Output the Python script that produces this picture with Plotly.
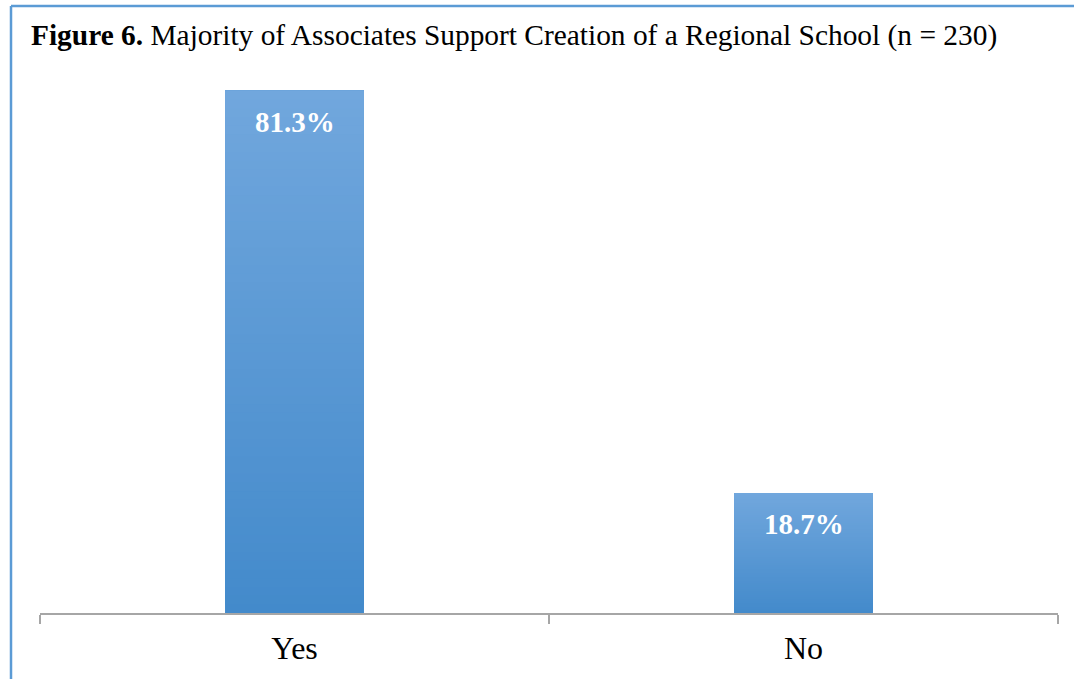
import plotly.graph_objects as go

categories = ["Yes", "No"]
values = [81.3, 18.7]
labels = ["81.3%", "18.7%"]
title_bold = "Figure 6."
title_rest = " Majority of Associates Support Creation of a Regional School (n = 230)"

top_rgb = (113, 167, 221)
bottom_rgb = (67, 138, 203)
N = 60

fig = go.Figure()
for k in range(N):
    t = (k + 0.5) / N
    c = tuple(round(bottom_rgb[i] + (top_rgb[i] - bottom_rgb[i]) * t) for i in range(3))
    fig.add_trace(go.Bar(
        x=categories,
        y=[v * (1 - k / N) for v in values],
        base=[v * k / N for v in values],
        marker=dict(color="rgb(%d,%d,%d)" % c, line=dict(width=0)),
        width=0.273,
        hoverinfo="skip",
        showlegend=False,
    ))

for cat, v, lab in zip(categories, values, labels):
    fig.add_annotation(x=cat, y=v, text="<b>%s</b>" % lab, showarrow=False,
                       yanchor="top", yshift=-13,
                       font=dict(family="Liberation Serif", size=29, color="white"))

border_color = "rgb(91,155,213)"
fig.update_layout(
    width=1074, height=679,
    barmode="overlay",
    plot_bgcolor="white", paper_bgcolor="white",
    margin=dict(l=40, r=16, t=60, b=66),
    title=dict(text="<b>%s</b>%s" % (title_bold, title_rest),
               xref="container", x=31 / 1074, xanchor="left",
               yref="container", y=1 - 35 / 679, yanchor="middle",
               font=dict(family="Liberation Serif", size=29.4, color="black")),
    xaxis=dict(range=[-0.5, 1.5], showline=True, linecolor="#a6a6a6", linewidth=1.5,
               ticks="outside", tickson="boundaries", ticklen=9, tickcolor="#a6a6a6",
               tickwidth=1.5, showgrid=False, ticklabelstandoff=6,
               tickfont=dict(family="Liberation Serif", size=32, color="black")),
    yaxis=dict(range=[0, 86.1], visible=False, showgrid=False),
    shapes=[
        dict(type="line", xref="paper", yref="paper",
             x0=(11 - 40) / 1018, x1=1.1, y0=1 + (60 - 6) / 553, y1=1 + (60 - 6) / 553,
             line=dict(color=border_color, width=2.5), layer="above"),
        dict(type="line", xref="paper", yref="paper",
             x0=(11 - 40) / 1018, x1=(11 - 40) / 1018, y0=-0.3, y1=1 + (60 - 6) / 553,
             line=dict(color=border_color, width=2.5), layer="above"),
    ],
)

fig.write_html("out.html", config={"displayModeBar": False},
               post_script="document.body.style.margin='0';document.body.style.overflow='hidden';")
